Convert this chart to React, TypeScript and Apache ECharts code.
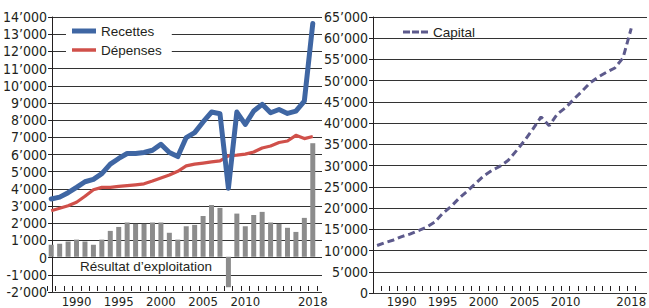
import React, { useEffect, useRef } from 'react';
import * as echarts from 'echarts';

const years = [
  '1987','1988','1989','1990','1991','1992','1993','1994','1995','1996','1997','1998','1999','2000','2001','2002',
  '2003','2004','2005','2006','2007','2008','2009','2010','2011','2012','2013','2014','2015','2016','2017','2018',
];
const yearLabels = ['1990', '1995', '2000', '2005', '2010', '2018'];

const recettes = [
  3370, 3480, 3740, 4050, 4380, 4520, 4850, 5410, 5740, 6030, 6030, 6090, 6220, 6570, 6090, 5850,
  6960, 7250, 7870, 8450, 8350, 4000, 8450, 7730, 8510, 8900, 8410, 8600, 8370, 8500, 9090, 13620,
];
const depenses = [
  2690, 2830, 2980, 3180, 3530, 3910, 4050, 4050, 4110, 4150, 4200, 4260, 4420, 4600, 4770, 4990,
  5310, 5410, 5470, 5540, 5600, 5890, 5930, 5990, 6120, 6350, 6470, 6670, 6760, 7090, 6900, 7020,
];
const resultat = [
  700, 760, 890, 1000, 890, 700, 1000, 1510, 1740, 2000, 1920, 1920, 2000, 2000, 1400, 1000,
  1780, 1860, 2380, 3020, 2850, -1780, 2520, 1780, 2440, 2620, 2000, 1920, 1690, 1450, 2270, 6630,
];
const capital = [
  10800, 11500, 12100, 12900, 13500, 14300, 15100, 16300, 18400, 20000, 22000, 23700, 25500, 27300, 28600, 29600,
  31000, 33300, 35700, 38400, 41300, 39200, 42000, 43500, 45500, 47400, 49400, 50800, 51900, 52900, 55300, 62300,
];

const NARROW = "'Liberation Sans Narrow', 'DejaVu Sans Condensed', 'Arial Narrow', sans-serif";
const SANS = "'Liberation Sans', Arial, sans-serif";
const TXT = '#231f20';
const GRID = '#333';

function fmt(v: number): string {
  const a = Math.abs(v);
  const s = a >= 1000 ? Math.floor(a / 1000) + '\u2019' + String(a % 1000).padStart(3, '0') : String(a);
  return (v < 0 ? '-' : '') + s;
}

function valueAxis(grid: number, min: number, max: number, interval: number) {
  return {
    type: 'value', gridIndex: grid, min, max, interval,
    axisLine: { show: true, lineStyle: { color: TXT, width: 1 } },
    axisTick: { show: true, length: 4, lineStyle: { color: TXT } },
    axisLabel: { formatter: fmt, fontFamily: NARROW, fontSize: 14, color: TXT, margin: 5 },
    splitLine: { show: true, lineStyle: { color: GRID, width: 1 } },
  };
}
function hiddenValue(grid: number, min: number, max: number) {
  return { type: 'value', gridIndex: grid, min, max, show: false, splitLine: { show: false } };
}
function catAxis(grid: number) {
  return {
    type: 'category', gridIndex: grid, data: years, boundaryGap: true, position: 'bottom',
    axisLine: { show: false, onZero: false },
    axisTick: { show: true, inside: true, length: 5, interval: 0, lineStyle: { color: TXT } },
    axisLabel: {
      interval: (_i: number, v: string) => yearLabels.includes(v),
      fontFamily: NARROW, fontSize: 13, color: TXT, margin: 4,
    },
    splitLine: { show: false },
  };
}

export default function App() {
  const ref = useRef<HTMLDivElement>(null);
  useEffect(() => {
    document.body.style.margin = '0';
    const chart = echarts.init(ref.current!, null, { renderer: 'svg' });
    chart.setOption({
      animation: false,
      backgroundColor: '#fff',
      grid: [
        { left: 47, top: 17, width: 275, height: 275 },
        { left: 47, top: 17, width: 270, height: 275 },
        { left: 373, top: 17, width: 274, height: 276 },
        { left: 373, top: 17, width: 268.5, height: 276 },
      ],
      xAxis: [
        { type: 'value', gridIndex: 0, show: false, min: 0, max: 1, splitLine: { show: false } },
        catAxis(1),
        { type: 'value', gridIndex: 2, show: false, min: 0, max: 1, splitLine: { show: false } },
        catAxis(3),
      ],
      yAxis: [
        valueAxis(0, -2000, 14000, 1000),
        hiddenValue(1, -2000, 14000),
        valueAxis(2, 0, 65000, 5000),
        hiddenValue(3, 0, 65000),
      ],
      legend: [
        {
          data: [
            { name: 'Recettes', icon: 'rect' },
            { name: 'Dépenses', icon: 'path://M0,0H24V3.5H0Z' },
          ],
          orient: 'vertical', left: 66, top: 19, itemWidth: 24, itemHeight: 5, itemGap: 3,
          backgroundColor: '#fff', padding: [4, 10, 4, 6], borderRadius: 0,
          textStyle: { fontFamily: SANS, fontSize: 13.5, color: TXT, lineHeight: 16 },
        },
        {
          data: [{ name: 'Capital', icon: 'path://M0,0H7V3H0Z M9,0H16V3H9Z M18,0H25V3H18Z' }],
          left: 397, top: 20, itemWidth: 25, itemHeight: 3, padding: [4, 6, 4, 6],
          textStyle: { fontFamily: SANS, fontSize: 13.5, color: TXT, lineHeight: 16 },
        },
      ],
      graphic: [
        {
          type: 'text', x: 80, y: 266,
          style: {
            text: 'Résultat d\u2019exploitation', fontFamily: SANS, fontSize: 13.5, fill: TXT,
            textVerticalAlign: 'middle', verticalAlign: 'middle',
          },
        },
      ],
      series: [
        {
          name: 'Résultat d\u2019exploitation', type: 'bar', xAxisIndex: 1, yAxisIndex: 1, data: resultat,
          barWidth: 5, itemStyle: { color: '#8c8c8c' }, z: 2,
        },
        {
          name: 'Dépenses', type: 'line', xAxisIndex: 1, yAxisIndex: 1, data: depenses, symbol: 'none',
          itemStyle: { color: '#d0504a' }, lineStyle: { color: '#d0504a', width: 3.2, join: 'round' }, z: 3,
        },
        {
          name: 'Recettes', type: 'line', xAxisIndex: 1, yAxisIndex: 1, data: recettes, symbol: 'none',
          itemStyle: { color: '#3f66a3' }, lineStyle: { color: '#3f66a3', width: 5, join: 'round', cap: 'round' }, z: 4,
        },
        {
          name: 'Capital', type: 'line', xAxisIndex: 3, yAxisIndex: 3, data: capital, symbol: 'none',
          itemStyle: { color: '#5d5a8c' }, lineStyle: { color: '#5d5a8c', width: 3, type: [7, 4] }, z: 3,
        },
      ],
    });
    return () => chart.dispose();
  }, []);
  return <div ref={ref} style={{ width: 649, height: 308 }} />;
}
